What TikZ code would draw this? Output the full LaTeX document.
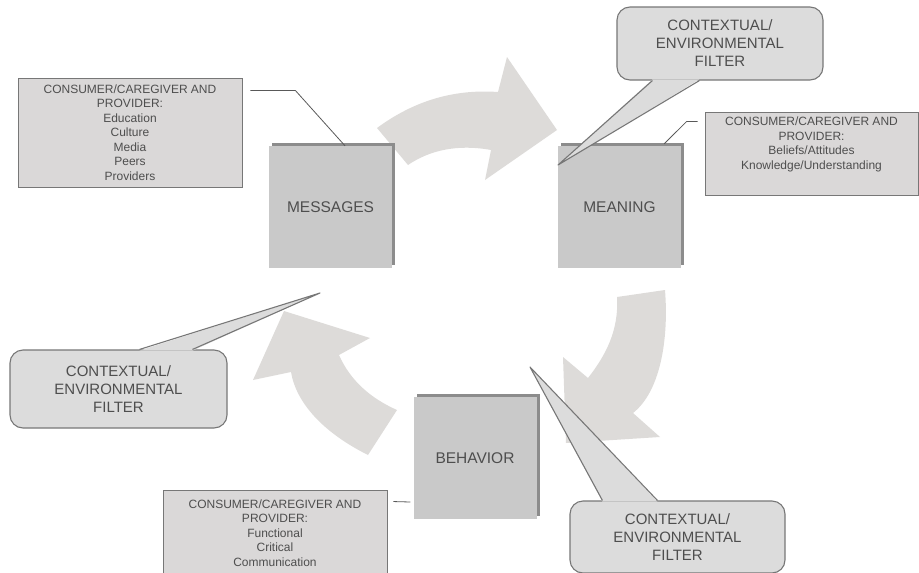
\documentclass[tikz,border=0pt]{standalone}
\usepackage{fontspec}
\setmainfont{Liberation Sans}
\usetikzlibrary{calc,shadows}

\definecolor{arrowgray}{HTML}{DDDBD9}
\definecolor{stagegray}{HTML}{C9C9C9}
\definecolor{shadowgray}{HTML}{8C8C8C}
\definecolor{infogray}{HTML}{DAD8D8}
\definecolor{bubblegray}{HTML}{DCDCDC}
\definecolor{linegray}{HTML}{777777}
\definecolor{textgray}{HTML}{4E4E4E}

\begin{document}
\begin{tikzpicture}[x=1pt,y=-1pt,
        stage/.style={fill=stagegray, inner sep=0pt,
                        minimum width=123pt, minimum height=122pt,
                        text=textgray, font=\fontsize{15.5}{18}\selectfont,
                        drop shadow={shadow xshift=3pt, shadow yshift=3pt,
                                        fill=shadowgray, opacity=1}},
        info/.style={draw=linegray, fill=infogray, line width=0.9pt,
                        align=center, inner sep=0pt, text=textgray,
                        font=\fontsize{12}{14.5}\selectfont},
        bubble/.style={draw=linegray, fill=bubblegray, line width=1.1pt,
                        rounded corners=13pt, align=center, inner sep=0pt,
                        text=textgray, font=\fontsize{15}{18}\selectfont},
        flow/.style={fill=arrowgray},
        leader/.style={draw=black!65, line width=0.8pt}]
    \useasboundingbox (0,0) rectangle (919,573);

    % the three curved arrows of the cycle
    \fill[flow] (377,128) .. controls (415,100) and (455,89) .. (498,92)
        -- (507,57) -- (557,130) -- (485,180) -- (491,150)
        .. controls (458,144) and (430,150) .. (408,165) -- cycle;
    \fill[flow] (665,290) .. controls (669,340) and (660,392) .. (633,413)
        -- (660,437) -- (566,443) -- (563,357) -- (588,378)
        .. controls (606,355) and (619,330) .. (617,297) -- cycle;
    \fill[flow] (368,455) .. controls (322,432) and (296,402) .. (291,372)
        -- (253,380) -- (284,311) -- (370,338) -- (339,355)
        .. controls (350,380) and (370,398) .. (397,410) -- cycle;

    % stages
    \node[stage] (messages) at (330.5,207) {MESSAGES};
    \node[stage] (meaning) at (619.5,207) {MEANING};
    \node[stage] (behavior) at (475,458) {BEHAVIOR};

    % consumer / provider boxes
    \node[info, minimum width=224pt, minimum height=109pt] (msginfo)
        at (130,132.5) {CONSUMER/CAREGIVER AND\\PROVIDER:\\Education\\Culture\\Media\\Peers\\Providers};
    \node[info, minimum width=213pt, minimum height=83pt] (meaninfo)
        at (811.5,153.5) {CONSUMER/CAREGIVER AND\\PROVIDER:\\Beliefs/Attitudes\\Knowledge/Understanding\\[6pt]};
    \node[info, minimum width=224pt, minimum height=86pt] (behinfo)
        at (275,533) {CONSUMER/CAREGIVER AND\\PROVIDER:\\Functional\\Critical\\Communication};

    \draw[leader] ($(msginfo.north east)+(8,13)$) -- ++(45,0)
        -- ($(messages.north)+(14.5,0)$);
    \draw[leader] ($(meaninfo.north west)+(-7,10)$) -- ++(-11,0)
        -- ($(meaning.north east)+(-17,-2)$);
    \draw[leader] ($(behinfo.north east)+(6,12)$) -- ($(behavior.west)+(-3,44)$);

    % filter callouts
    \node[bubble, minimum width=206pt, minimum height=73pt] (filtertop)
        at (720,43.5) {CONTEXTUAL/\\ENVIRONMENTAL\\FILTER};
    \node[bubble, minimum width=217pt, minimum height=78pt] (filterleft)
        at (118.5,389) {CONTEXTUAL/\\ENVIRONMENTAL\\FILTER};
    \node[bubble, minimum width=215pt, minimum height=72pt] (filterright)
        at (677.5,537) {CONTEXTUAL/\\ENVIRONMENTAL\\FILTER};

    \coordinate (tiptop) at (558,165);
    \coordinate (tipleft) at (320,293);
    \coordinate (tipright) at (530,367);

    \foreach \b/\t/\u/\v/\a/\d in {filtertop/tiptop/36/83/south west/-1.2,
            filterleft/tipleft/130/183/north west/1.2,
            filterright/tipright/33/88/north west/1.2} {
        \fill[bubblegray] ($(\b.\a)+(\u,\d)$) -- (\t) -- ($(\b.\a)+(\v,\d)$) -- cycle;
        \draw[linegray, line width=1.1pt, line join=round]
            ($(\b.\a)+(\u,0)$) -- (\t) -- ($(\b.\a)+(\v,0)$);
    }
\end{tikzpicture}
\end{document}
